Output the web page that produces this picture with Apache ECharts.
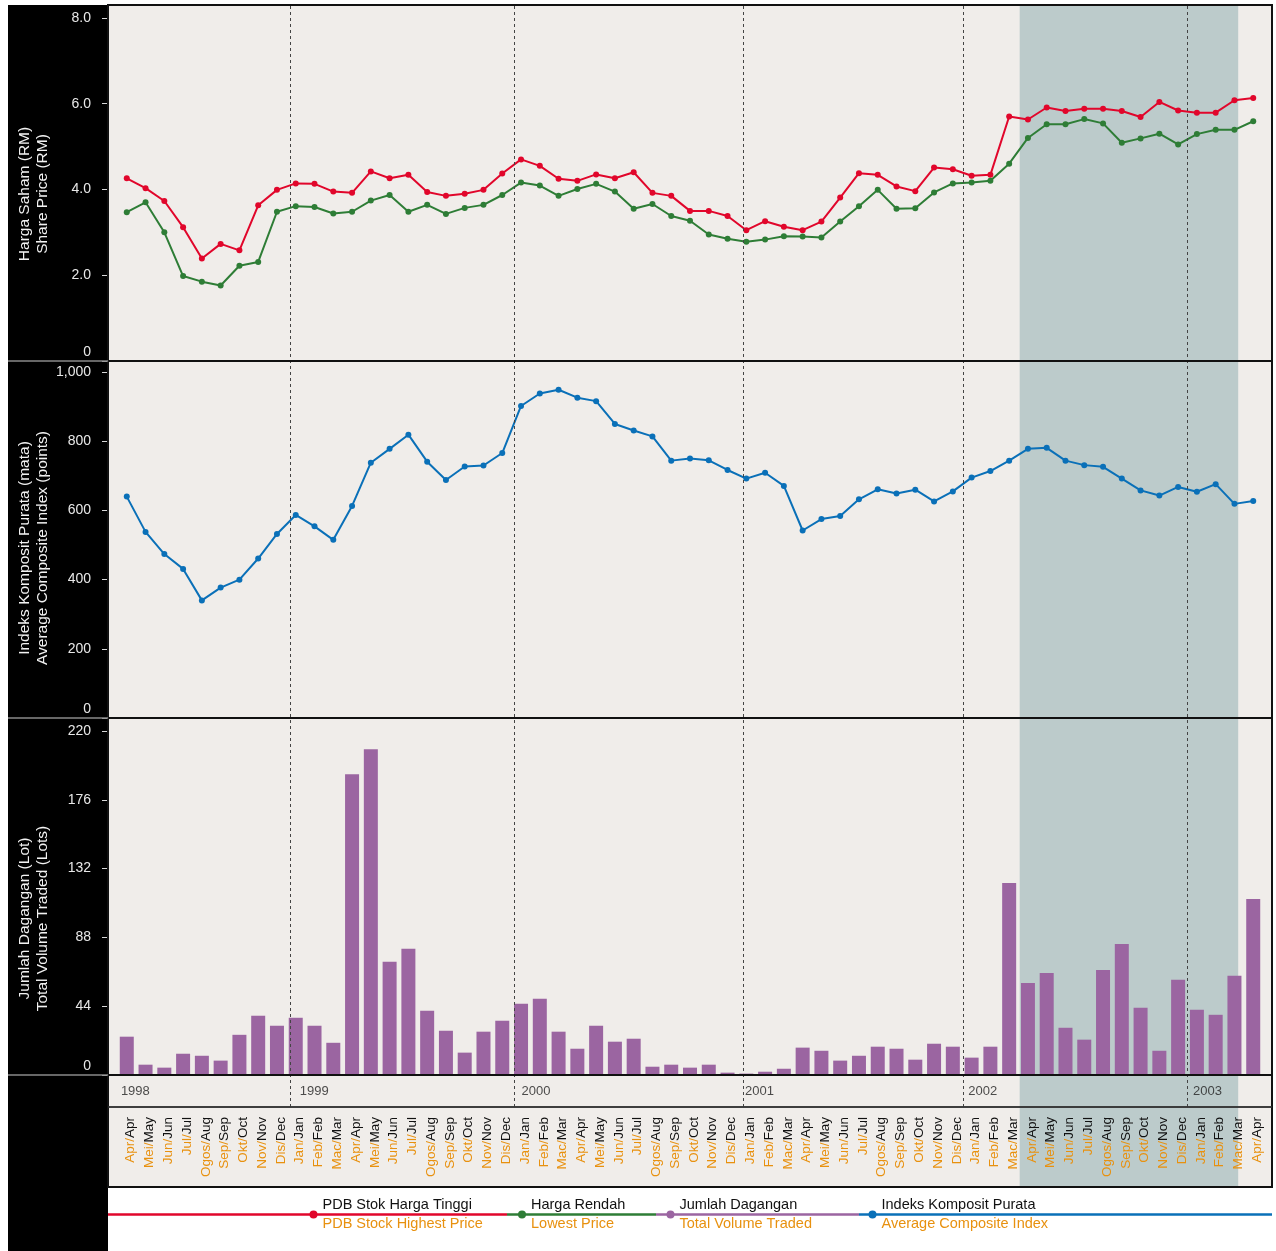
<!DOCTYPE html>
<html>
<head>
<meta charset="utf-8">
<script src="https://cdn.jsdelivr.net/npm/echarts@6/dist/echarts.min.js"></script>
<style>
html, body { margin: 0; padding: 0; background: #fff; }
#chart { width: 1276px; height: 1251px; }
</style>
</head>
<body>
<div id="chart"></div>
<script>
const FONT = '"Liberation Sans", Arial, Helvetica, sans-serif'

// month names, Malay / English, starting April 1998 (61 months to April 2003)
const monthNamesMY = ['Jan', 'Feb', 'Mac', 'Apr', 'Mei', 'Jun', 'Jul', 'Ogos', 'Sep', 'Okt', 'Nov', 'Dis']
const monthNamesEN = ['Jan', 'Feb', 'Mar', 'Apr', 'May', 'Jun', 'Jul', 'Aug', 'Sep', 'Oct', 'Nov', 'Dec']
const firstMonth = 3
const monthCount = 61
const monthsMY = []
const monthsEN = []
for (let i = 0; i < monthCount; i++) {
  monthsMY.push(monthNamesMY[(firstMonth + i) % 12])
  monthsEN.push(monthNamesEN[(firstMonth + i) % 12])
}

const yearLabels = ['1998', '1999', '2000', '2001', '2002', '2003']
const yearLabelPos = [-0.34, 9.19, 21.0, 32.9, 44.8, 56.77]
const yearLinePos = [8.69, 20.62, 32.86, 44.54, 56.51]
const shadeRange = [47.56, 59.2]

// share price (RM)
const highPrice = [4.26, 4.03, 3.73, 3.12, 2.39, 2.73, 2.58, 3.63, 3.99,
  4.14, 4.13, 3.95, 3.92, 4.42, 4.26, 4.34, 3.94, 3.85, 3.90, 3.99, 4.37,
  4.70, 4.55, 4.25, 4.20, 4.35, 4.26, 4.40, 3.92, 3.85, 3.50, 3.50, 3.38,
  3.05, 3.26, 3.13, 3.05, 3.25, 3.81, 4.38, 4.34, 4.07, 3.96, 4.51, 4.47,
  4.32, 4.34, 5.70, 5.63, 5.91, 5.83, 5.88, 5.88, 5.83, 5.69, 6.04, 5.84,
  5.79, 5.79, 6.08, 6.13]
const lowPrice = [3.47, 3.70, 3.00, 1.98, 1.85, 1.76, 2.22, 2.31, 3.48,
  3.61, 3.59, 3.44, 3.48, 3.74, 3.87, 3.48, 3.64, 3.43, 3.57, 3.64, 3.87,
  4.16, 4.09, 3.85, 4.01, 4.13, 3.95, 3.55, 3.66, 3.38, 3.27, 2.95, 2.85,
  2.78, 2.83, 2.91, 2.90, 2.88, 3.25, 3.61, 3.99, 3.55, 3.56, 3.93, 4.14,
  4.16, 4.20, 4.60, 5.20, 5.52, 5.52, 5.64, 5.54, 5.09, 5.19, 5.30, 5.05,
  5.29, 5.39, 5.39, 5.59]
// average composite index (points)
const compositeIndex = [640, 538, 474, 431, 340, 377, 400, 461, 532,
  587, 554, 515, 613, 738, 778, 819, 741, 688, 727, 730, 766,
  902, 938, 949, 926, 916, 850, 831, 814, 744, 750, 745, 717,
  692, 709, 671, 542, 575, 584, 632, 661, 649, 660, 626, 655,
  695, 714, 744, 778, 781, 744, 731, 726, 692, 658, 643, 668,
  654, 676, 619, 627]
// total volume traded (lots)
const volume = [24.5, 6.6, 4.7, 13.6, 12.3, 9.2, 25.7, 37.9, 31.5,
  36.6, 31.5, 20.6, 192.4, 208.3, 72.4, 80.7, 41.1, 28.3, 14.3, 27.7, 34.7,
  45.5, 48.7, 27.7, 16.8, 31.5, 21.3, 23.2, 5.3, 6.6, 4.7, 6.6, 1.5,
  0.9, 2.1, 4.0, 17.5, 15.5, 9.2, 12.3, 18.1, 16.8, 9.8, 20.0, 18.1,
  11.1, 18.1, 122.8, 58.9, 65.3, 30.2, 22.6, 67.2, 83.8, 43.0, 15.5, 60.9,
  41.7, 38.5, 63.4, 112.6]

const priceTicks = [0, 2, 4, 6, 8]
const indexTicks = [0, 200, 400, 600, 800, 1000]
const volumeTicks = [0, 44, 88, 132, 176, 220]

const legendMY = ['PDB Stok Harga Tinggi', 'Harga Rendah', 'Jumlah Dagangan', 'Indeks Komposit Purata']
const legendEN = ['PDB Stock Highest Price', 'Lowest Price', 'Total Volume Traded', 'Average Composite Index']

const RED = '#e1062b'
const GREEN = '#2e7d36'
const BLUE = '#0a70b8'
const PURPLE = '#9b65a1'
const ORANGE = '#e8910f'
const legendColors = [RED, GREEN, PURPLE, BLUE]

const toPoints = arr => arr.map((v, i) => [i, v])

const chart = echarts.init(document.getElementById('chart'))

const L = 108
const W = 1164

const hiddenX = gridIndex => ({
  type: 'value', gridIndex, min: -1, max: 61,
  axisLine: { show: false, onZero: false },
  axisTick: { show: false },
  axisLabel: { show: false },
  splitLine: { show: false }
})

const hiddenY = gridIndex => ({
  type: 'value', gridIndex, min: 0, max: 1,
  axisLine: { show: false, onZero: false },
  axisTick: { show: false },
  axisLabel: { show: false },
  splitLine: { show: false }
})

const panelY = (gridIndex, max, ticks, fmt, name, shift) => ({
  type: 'value', gridIndex, min: 0, max,
  axisLine: { show: false, onZero: false },
  axisTick: { show: true, length: 6, customValues: ticks, lineStyle: { color: '#d8d8d8', width: 1 } },
  axisLabel: {
    customValues: ticks,
    margin: 17,
    color: '#e8e8e8',
    fontSize: 14,
    fontFamily: FONT,
    formatter: v => ticks.indexOf(v) < 0 ? '' : (v === 0 ? '{z|0}' : fmt(v)),
    rich: { z: { padding: [0, 0, 18, 0], color: '#e8e8e8', fontSize: 14, fontFamily: FONT } }
  },
  splitLine: { show: false },
  name,
  nameLocation: 'middle',
  nameRotate: 90,
  nameGap: 56,
  nameMoveOverlap: false,
  nameTextStyle: { color: '#f2f2f2', fontSize: 15.5, lineHeight: 18, fontFamily: FONT, padding: [0, shift * 2, 0, 0] }
})

const option = {
  animation: false,
  backgroundColor: '#fff',
  grid: [
    { left: L, width: W, top: 5, height: 1182, show: true, backgroundColor: '#f0edea', borderWidth: 0, z: -10 },
    { left: L, width: W, top: 5, height: 1102 },
    { left: L, width: W, top: 5, height: 356, show: true, borderColor: '#111', borderWidth: 2 },
    { left: L, width: W, top: 361, height: 357, show: true, borderColor: '#111', borderWidth: 2 },
    { left: L, width: W, top: 718, height: 357, show: true, borderColor: '#111', borderWidth: 2 },
    { left: L, width: W, top: 1075, height: 32, show: true, borderColor: '#333', borderWidth: 1.5 }
  ],
  xAxis: [
    hiddenX(0), hiddenX(1), hiddenX(2), hiddenX(3), hiddenX(4),
    {
      type: 'value', gridIndex: 5, min: -1, max: 61, interval: 1, position: 'bottom',
      axisLine: { show: false, onZero: false },
      axisTick: { show: false },
      splitLine: { show: false },
      axisLabel: {
        rotate: 90,
        margin: 10,
        padding: [8, 0, 0, 0],
        fontFamily: FONT,
        fontSize: 13.5,
        formatter: v => (v >= 0 && v < monthCount) ? '{my|' + monthsMY[v] + '/}{en|' + monthsEN[v] + '}' : '',
        rich: {
          my: { color: ORANGE, fontSize: 13.5, fontFamily: FONT },
          en: { color: '#111', fontSize: 13.5, fontFamily: FONT }
        }
      }
    }
  ],
  yAxis: [
    hiddenY(0), hiddenY(1),
    panelY(2, 8.3, priceTicks, v => v.toFixed(1), 'Harga Saham (RM)\nShare Price (RM)', 11),
    panelY(3, 1032, indexTicks, v => v.toLocaleString('en-US'), 'Indeks Komposit Purata (mata)\nAverage Composite Index (points)', 8.5),
    panelY(4, 228.3, volumeTicks, v => String(v), 'Jumlah Dagangan (Lot)\nTotal Volume Traded (Lots)', 22),
    hiddenY(5)
  ],
  series: [
    {
      type: 'line', xAxisIndex: 0, yAxisIndex: 0, z: -5, silent: true,
      data: [[-1, 0], [61, 0]], symbol: 'none', lineStyle: { opacity: 0 },
      markArea: {
        z: -5,
        silent: true,
        itemStyle: { color: '#bccbcb' },
        data: [[{ xAxis: shadeRange[0] }, { xAxis: shadeRange[1] }]]
      }
    },
    {
      type: 'line', xAxisIndex: 1, yAxisIndex: 1, silent: true,
      data: [[-1, 0], [61, 0]], symbol: 'none', lineStyle: { opacity: 0 },
      markLine: {
        silent: true,
        symbol: ['none', 'none'],
        label: { show: false },
        lineStyle: { color: '#444', type: [3, 3], width: 1 },
        data: yearLinePos.map(x => ({ xAxis: x }))
      }
    },
    {
      name: legendMY[0], type: 'line', xAxisIndex: 2, yAxisIndex: 2,
      data: toPoints(highPrice), symbol: 'circle', symbolSize: 6,
      lineStyle: { color: RED, width: 2 }, itemStyle: { color: RED }
    },
    {
      name: legendMY[1], type: 'line', xAxisIndex: 2, yAxisIndex: 2,
      data: toPoints(lowPrice), symbol: 'circle', symbolSize: 6,
      lineStyle: { color: GREEN, width: 2 }, itemStyle: { color: GREEN }
    },
    {
      name: legendMY[3], type: 'line', xAxisIndex: 3, yAxisIndex: 3,
      data: toPoints(compositeIndex), symbol: 'circle', symbolSize: 6,
      lineStyle: { color: BLUE, width: 2 }, itemStyle: { color: BLUE }
    },
    {
      name: legendMY[2], type: 'bar', xAxisIndex: 4, yAxisIndex: 4,
      data: toPoints(volume), barWidth: 14,
      itemStyle: { color: PURPLE }
    },
    {
      type: 'scatter', xAxisIndex: 5, yAxisIndex: 5, silent: true,
      data: yearLabelPos.map(x => [x, 0.5]), symbolSize: 1,
      itemStyle: { color: 'transparent' },
      label: {
        show: true, position: 'right', distance: 0,
        formatter: p => yearLabels[p.dataIndex],
        color: '#222', fontSize: 13, fontFamily: FONT
      }
    }
  ],
  graphic: []
}

// frame: black side column, outer border, separators
const g = option.graphic
g.push({ type: 'rect', z: -20, shape: { x: 8, y: 5, width: 100, height: 1246 }, style: { fill: '#000' } })
g.push({ type: 'rect', z: 50, shape: { x: L, y: 5, width: W, height: 1182 }, style: { fill: 'transparent', stroke: '#111', lineWidth: 2 } })
;[361, 718, 1075].forEach(y => {
  g.push({ type: 'line', z: 50, shape: { x1: 8, y1: y, x2: L, y2: y }, style: { stroke: '#8a8a8a', lineWidth: 1.5 } })
  g.push({ type: 'line', z: 50, shape: { x1: L, y1: y, x2: L + W, y2: y }, style: { stroke: '#111', lineWidth: 2 } })
})
g.push({ type: 'line', z: 50, shape: { x1: L, y1: 1107, x2: L + W, y2: 1107 }, style: { stroke: '#333', lineWidth: 1.5 } })

// legend band
const legendDotX = [313.5, 522, 670.5, 872.5]
const legendSegStart = [L, 507, 656, 859]
const legendSegEnd = [507, 656, 859, L + W]
const legendLineY = 1214.5
legendColors.forEach((c, i) => {
  g.push({ type: 'line', z: 50, shape: { x1: legendSegStart[i], y1: legendLineY, x2: legendSegEnd[i], y2: legendLineY }, style: { stroke: c, lineWidth: 2.5 } })
  g.push({ type: 'circle', z: 51, shape: { cx: legendDotX[i], cy: legendLineY, r: 4 }, style: { fill: c } })
  g.push({ type: 'text', z: 51, x: legendDotX[i] + 9, y: 1205, style: { text: legendMY[i], fill: '#111', fontSize: 14.5, fontFamily: FONT, align: 'left', verticalAlign: 'middle' } })
  g.push({ type: 'text', z: 51, x: legendDotX[i] + 9, y: 1224, style: { text: legendEN[i], fill: ORANGE, fontSize: 14.5, fontFamily: FONT, align: 'left', verticalAlign: 'middle' } })
})

chart.setOption(option)
</script>
</body>
</html>
